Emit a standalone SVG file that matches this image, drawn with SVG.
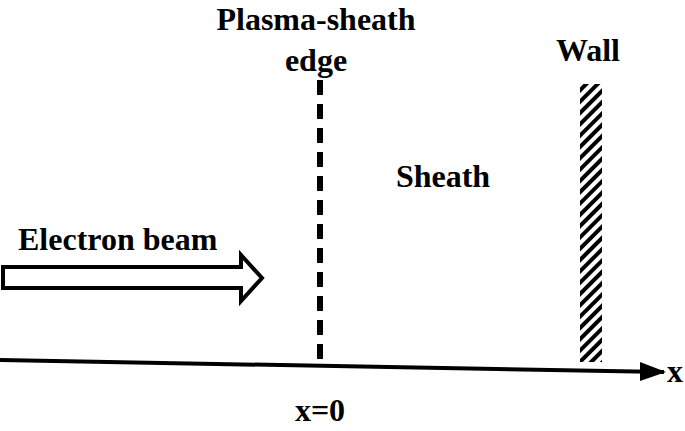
<svg xmlns="http://www.w3.org/2000/svg" width="685" height="431" viewBox="0 0 685 431">
<style>
text{font-family:"Liberation Serif","Times New Roman",serif;font-weight:bold;font-size:32px;fill:#000}
</style>
<defs>
<pattern id="hatch" patternUnits="userSpaceOnUse" width="8" height="8" patternTransform="rotate(45)">
<rect x="0" y="0" width="4" height="8" fill="#000"/>
</pattern>
</defs>
<rect width="685" height="431" fill="#fff"/>
<g id="connectors">
<path d="M0,360 L664,372" stroke="#000" stroke-width="4" fill="none"/>
<path d="M640,362 L666,372 L640,381 Z" fill="#000"/>
</g>
<g id="sheath-edge">
<line x1="320" y1="80" x2="320" y2="362" stroke="#000" stroke-width="6" stroke-dasharray="15,9"/>
<text x="316" y="30" text-anchor="middle">Plasma-sheath</text>
<text x="316" y="71" text-anchor="middle">edge</text>
</g>
<g id="wall">
<rect x="580" y="84" width="22" height="278" fill="url(#hatch)"/>
<text x="588" y="61" text-anchor="middle">Wall</text>
</g>
<g id="sheath"><text x="443" y="187" text-anchor="middle">Sheath</text></g>
<g id="beam">
<path d="M3,267 L241,267 L241,255 L262,278 L241,301 L241,288 L3,288 Z" fill="#fff" stroke="#000" stroke-width="4"/>
<text x="18" y="250">Electron beam</text>
</g>
<g id="x0"><text x="320" y="421" text-anchor="middle">x=0</text></g>
<g id="xlabel"><text x="667" y="382">x</text></g>
</svg>
